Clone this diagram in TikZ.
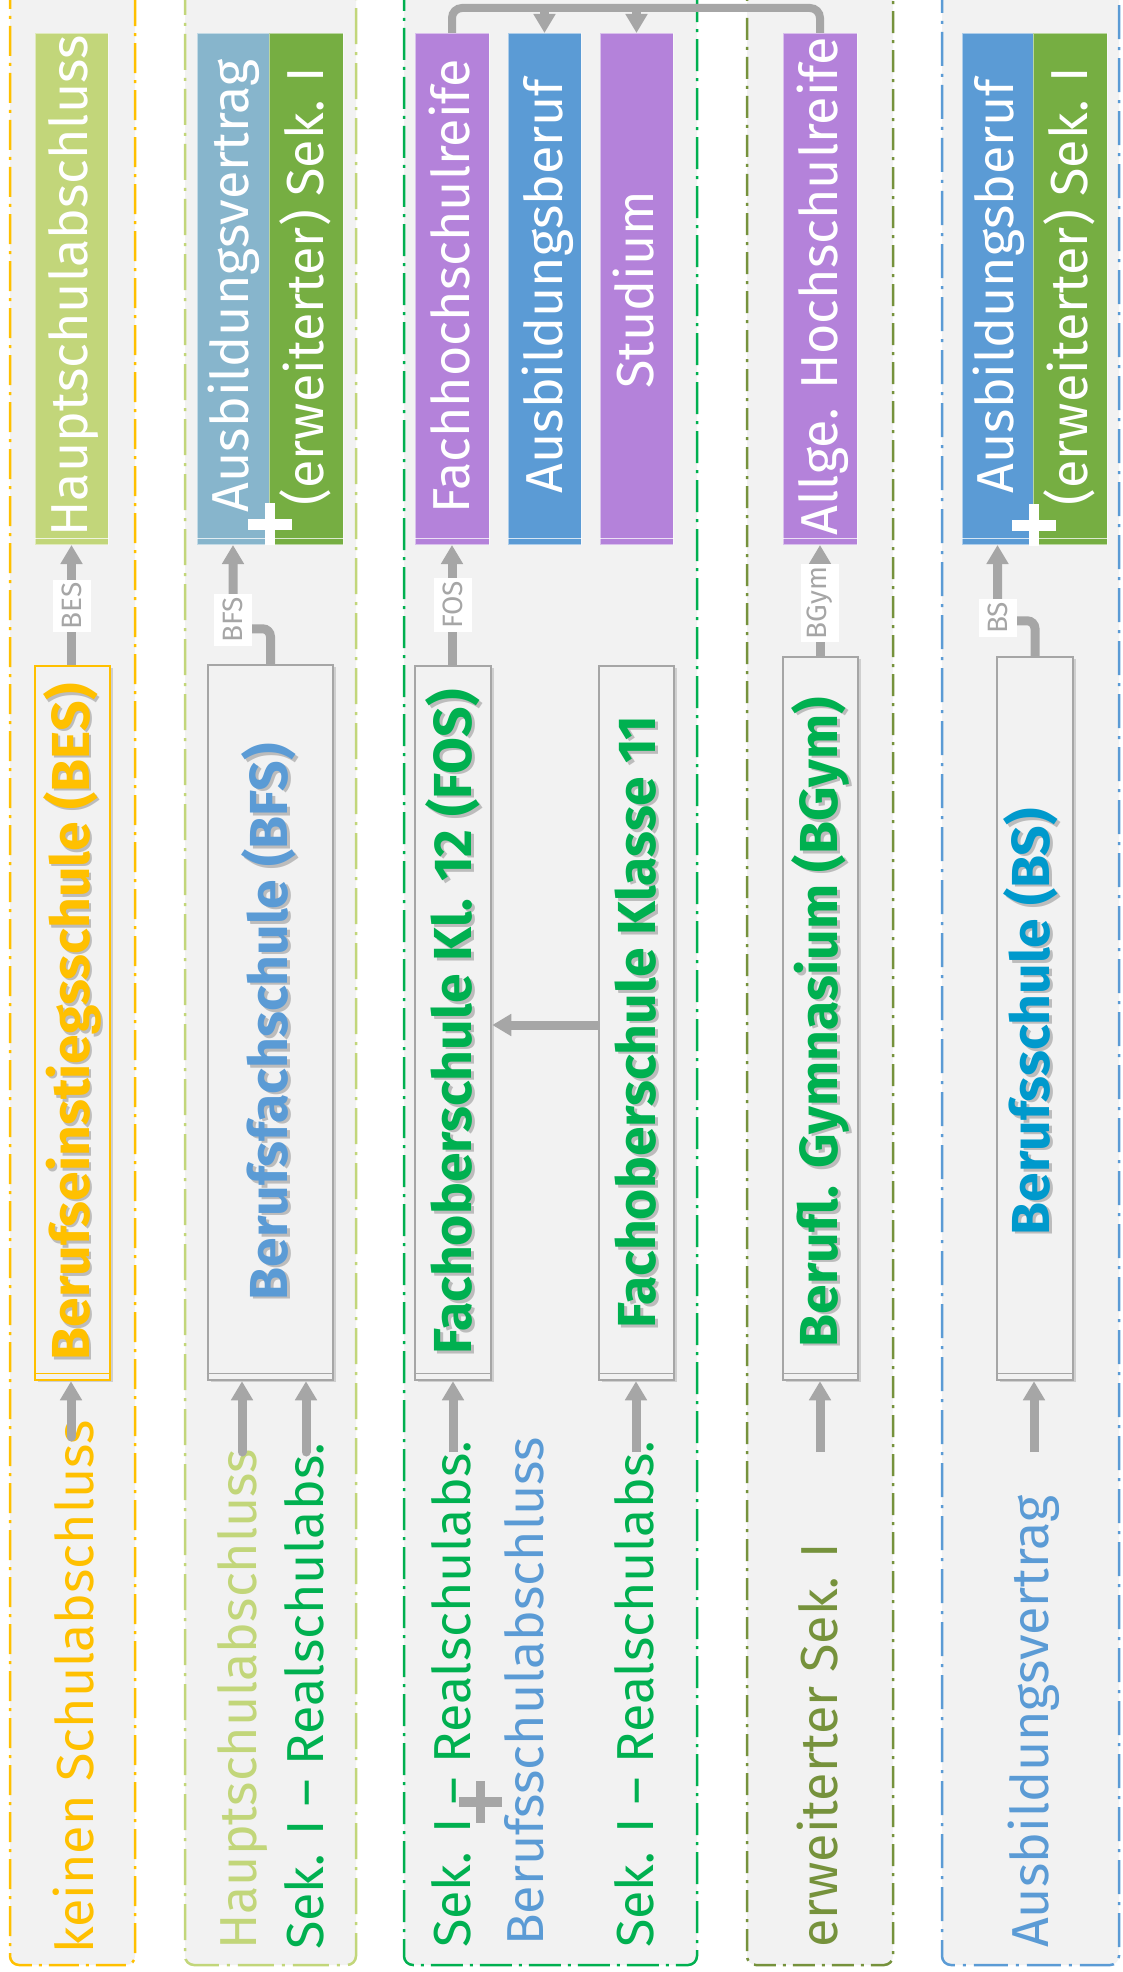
\documentclass[tikz,border=0pt]{standalone}
\usepackage{fontspec}
\setmainfont{Fira Sans}
\usetikzlibrary{arrows.meta,shadows}
\definecolor{lanebg}{HTML}{F2F2F2}
\definecolor{cyel}{HTML}{FFC000}
\definecolor{clgreen}{HTML}{C2D67A}
\definecolor{cgreen}{HTML}{00B050}
\definecolor{colive}{HTML}{76923C}
\definecolor{cblue}{HTML}{5B9BD5}
\definecolor{cgblue}{HTML}{87B5CC}
\definecolor{cdgreen}{HTML}{76AE42}
\definecolor{cpurple}{HTML}{B482DA}
\definecolor{cteal}{HTML}{0099CC}
\definecolor{cgrey}{HTML}{A6A6A6}
\newcommand\bigtxt{\fontsize{52}{62}\selectfont}
\newcommand\boldtxt{\fontsize{53.5}{62}\selectfont\bfseries}
\newcommand\lbltxt{\fontsize{28}{32}\selectfont}
\begin{document}
\begin{tikzpicture}[x=1pt,y=-1pt,
  lanestyle/.style={fill=lanebg, line width=2.5pt, rounded corners=9pt},
  topbox/.style={rectangle, draw=white, draw opacity=0.5, line width=1pt, inner sep=0pt, minimum height=511pt},
  midbox/.style={rectangle, draw=cgrey, fill=lanebg, line width=2.5pt, inner sep=0pt, drop shadow={shadow xshift=2.5pt, shadow yshift=-2pt, opacity=0.3}},
  wtxt/.style={rotate=90, anchor=base, inner sep=0pt, text=white, font=\bigtxt},
  mtxt/.style={rotate=90, anchor=base, inner sep=0pt, font=\boldtxt},
  mshadow/.style={rotate=90, anchor=base, inner sep=0pt, font=\boldtxt, text=black, text opacity=0.22},
  btxt/.style={rotate=90, anchor=base west, inner sep=0pt, font=\bigtxt},
  lbl/.style={rotate=90, fill=white, text=cgrey, font=\lbltxt, inner xsep=3pt, inner ysep=0pt, minimum height=38pt},
  arr/.style={draw=cgrey, line width=9pt, -{Triangle[width=21pt,length=19pt]}},
  conn/.style={draw=cgrey, line width=8pt},
]
\useasboundingbox (0,0) rectangle (1122,1972);
\fill[white] (0,0) rectangle (1122,1972);

% lanes
\draw[lanestyle, draw=cyel, dash pattern=on 30pt off 7pt on 3pt off 7pt] (10,-30) rectangle (135,1965);
\draw[lanestyle, draw=clgreen, dash pattern=on 36pt off 8pt on 3pt off 8pt] (185,-30) rectangle (356,1965);
\draw[lanestyle, draw=cgreen, dash pattern=on 32pt off 7pt on 3pt off 7pt] (404,-30) rectangle (697,1965);
\draw[lanestyle, draw=colive, dash pattern=on 22pt off 7pt on 3pt off 7pt] (747,-30) rectangle (893,1965);
\draw[lanestyle, draw=cblue, dash pattern=on 34pt off 8pt on 3pt off 8pt] (942,-30) rectangle (1119,1965);

% top result boxes
\node[topbox, fill=clgreen, minimum width=73pt] (hs) at (71.5,289) {};
\node[topbox, fill=cgblue, minimum width=72pt] (av) at (233,289) {};
\node[topbox, fill=cdgreen, minimum width=74pt] (sek2) at (306,289) {};
\node[topbox, fill=cpurple, minimum width=74pt] (fhr) at (452,289) {};
\node[topbox, fill=cblue, minimum width=73pt] (ab3) at (544.5,289) {};
\node[topbox, fill=cpurple, minimum width=73pt] (st) at (636.5,289) {};
\node[topbox, fill=cpurple, minimum width=74pt] (ahr) at (820,289) {};
\node[topbox, fill=cblue, minimum width=71pt] (ab5) at (997.5,289) {};
\node[topbox, fill=cdgreen, minimum width=74pt] (sek5) at (1070,289) {};
\foreach \b in {hs,av,sek2,fhr,ab3,st,ahr,ab5,sek5}{
  \draw[white, opacity=0.75, line width=1pt] ([yshift=7pt]\b.south west) -- ([yshift=7pt]\b.south east);
}
\node[wtxt] (t-hs) at (87,286) {Hauptschulabschluss};
\node[wtxt] (t-av) at (248,286) {Ausbildungsvertrag};
\node[wtxt] (t-sek2) at (323,286) {(erweiterter) Sek. I};
\node[wtxt] (t-fhr) at (469,286) {Fachhochschulreife};
\node[wtxt] (t-ab3) at (562,286) {Ausbildungsberuf};
\node[wtxt] (t-st) at (653,290) {Studium};
\node[wtxt] (t-ahr) at (837,286) {Allge. Hochschulreife};
\node[wtxt] (t-ab5) at (1013,286) {Ausbildungsberuf};
\node[wtxt] (t-sek5) at (1087,286) {(erweiterter) Sek. I};

% plus signs (white)
\fill[white] (248,518.5) rectangle (292,529.5);
\fill[white] (265,503) rectangle (275,545);
\fill[white] (1012,519.5) rectangle (1056,530.5);
\fill[white] (1029,504) rectangle (1039,546);

% school boxes
\node[midbox, draw=cyel, minimum width=75pt, minimum height=714pt] (bes) at (72.5,1023) {};
\node[midbox, minimum width=125pt, minimum height=715pt] (bfs) at (270.5,1022.5) {};
\node[midbox, minimum width=76pt, minimum height=714pt] (fos) at (453,1023) {};
\node[midbox, minimum width=75pt, minimum height=714pt] (k11) at (636.5,1023) {};
\node[midbox, minimum width=75pt, minimum height=723pt] (bgym) at (820.5,1018.5) {};
\node[midbox, minimum width=76pt, minimum height=723pt] (bs) at (1035,1018.5) {};
\draw[cyel, line width=1.5pt] ([yshift=8pt]bes.south west) -- ([yshift=8pt]bes.south east);
\foreach \b in {bfs,fos,k11,bgym,bs}{
  \draw[cgrey, line width=1.5pt] ([yshift=8pt]\b.south west) -- ([yshift=8pt]\b.south east);
}

\node[mshadow] (s-bes) at (91.5,1024.5) {Berufseinstiegsschule (BES)};
\node[mtxt, text=cyel] (t-bes) at (89,1022) {Berufseinstiegsschule (BES)};
\node[mshadow] (s-bfs) at (290,1024.5) {Berufsfachschule (BFS)};
\node[mtxt, text=cblue] (t-bfs) at (287.5,1022) {Berufsfachschule (BFS)};
\node[mshadow] (s-fos) at (474,1024.5) {Fachoberschule Kl. 12 (FOS)};
\node[mtxt, text=cgreen] (t-fos) at (471.5,1022) {Fachoberschule Kl. 12 (FOS)};
\node[mshadow] (s-k11) at (658,1024.5) {Fachoberschule Klasse 11};
\node[mtxt, text=cgreen] (t-k11) at (655.5,1022) {Fachoberschule Klasse 11};
\node[mshadow] (s-bgym) at (840,1024.5) {Berufl. Gymnasium (BGym)};
\node[mtxt, text=cgreen] (t-bgym) at (837.5,1022) {Berufl. Gymnasium (BGym)};
\node[mshadow] (s-bs) at (1052,1024.5) {Berufsschule (BS)};
\node[mtxt, text=cteal] (t-bs) at (1049.5,1022) {Berufsschule (BS)};

% entry texts
\node[btxt, text=cyel] (i-bes) at (93.5,1954) {keinen Schulabschluss};
\node[btxt, text=clgreen] (i-hs) at (256,1950) {Hauptschulabschluss};
\node[btxt, text=cgreen] (i-rs2) at (323,1950) {Sek. I – Realschulabs.};
\node[btxt, text=cgreen] (i-rs3) at (470,1948) {Sek. I – Realschulabs.};
\node[btxt, text=cblue] (i-bsa) at (543,1946) {Berufsschulabschluss};
\node[btxt, text=cgreen] (i-rs4) at (653,1948) {Sek. I – Realschulabs.};
\node[btxt, text=colive] (i-erw) at (837,1948) {erweiterter Sek. I};
\node[btxt, text=cblue] (i-av) at (1048,1948) {Ausbildungsvertrag};

% grey plus
\fill[cgrey] (459,1797) rectangle (502,1807);
\fill[cgrey] (475.5,1781) rectangle (484.5,1823);

% entry arrows
\coordinate (a1) at (71,1437);
\coordinate (a2) at (242,1452);
\coordinate (a3) at (306,1452);
\coordinate (a4) at (453,1452);
\coordinate (a5) at (636,1452);
\coordinate (a6) at (820,1452);
\coordinate (a7) at (1034,1452);
\draw[arr, line cap=round] (a1) -- (a1 |- bes.south);
\draw[arr, line cap=round] (a2) -- (a2 |- bfs.south);
\draw[arr, line cap=round] (a3) -- (a3 |- bfs.south);
\draw[arr] (a4) -- (a4 |- fos.south);
\draw[arr] (a5) -- (a5 |- k11.south);
\draw[arr] (a6) -- (a6 |- bgym.south);
\draw[arr] (a7) -- (a7 |- bs.south);

% Klasse 11 -> FOS
\coordinate (hline) at (0,1025);
\draw[arr] (k11.west |- hline) -- (fos.east |- hline);

% school -> result
\draw[arr] (bes.north -| hs.south) -- (hs.south);
\draw[arr, rounded corners=8pt] (bfs.north) -- ++(0,-35) -| (av.south);
\draw[arr] (fos.north -| fhr.south) -- (fhr.south);
\draw[arr] (bgym.north -| ahr.south) -- (ahr.south);
\draw[arr, rounded corners=8pt] (bs.north) -- ++(0,-35) -| (ab5.south);

\node[lbl] (l-bes) at (72,606) {BES};
\node[lbl] (l-bfs) at (233,620) {BFS};
\node[lbl] (l-fos) at (453,605) {FOS};
\node[lbl] (l-bgym) at (820,603) {BGym};
\node[lbl] (l-bs) at (998,618) {BS};

% top connector
\coordinate (bar) at (0,8);
\draw[conn, rounded corners=10pt] (fhr.north) -- (fhr.north |- bar) -- (ahr.north |- bar) -- (ahr.north);
\draw[arr] (ab3.north |- bar) -- (ab3.north);
\draw[arr] (st.north |- bar) -- (st.north);
\end{tikzpicture}
\end{document}
